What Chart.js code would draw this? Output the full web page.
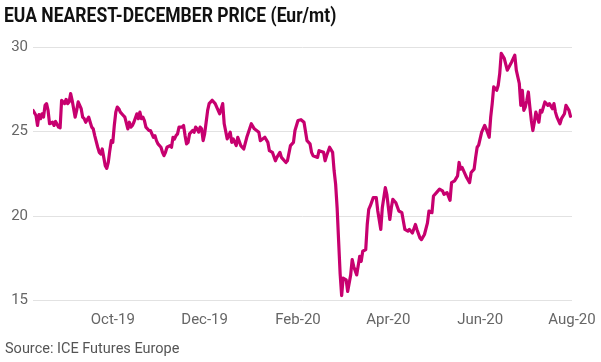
<!DOCTYPE html>
<html>
<head>
<meta charset="utf-8">
<script src="https://cdn.jsdelivr.net/npm/chart.js@4/dist/chart.umd.min.js"></script>
<style>
  html, body { margin: 0; padding: 0; background: #fff; }
  #wrap { width: 601px; height: 362px; position: relative; }
  #title {
    position: absolute; left: 4px; top: 5px; margin: 0;
    font: bold 21px/1 Roboto, sans-serif; color: #111;
    white-space: nowrap; transform-origin: 0 0;
  }
</style>
</head>
<body>
<div id="wrap">
  <canvas id="euaChart"></canvas>
  <div id="title">EUA NEAREST-DECEMBER PRICE (Eur/mt)</div>
</div>
<script>
// EUA nearest-December settlement (Eur/mt)
const priceDates = [
  '2019-08-09','2019-08-11','2019-08-12','2019-08-13','2019-08-14','2019-08-15','2019-08-16','2019-08-17',
  '2019-08-18','2019-08-19','2019-08-20','2019-08-22','2019-08-23','2019-08-24','2019-08-26','2019-08-27',
  '2019-08-28','2019-08-30','2019-08-31','2019-09-01','2019-09-02','2019-09-03','2019-09-04','2019-09-06',
  '2019-09-07','2019-09-08','2019-09-10','2019-09-11','2019-09-12','2019-09-13','2019-09-15','2019-09-16',
  '2019-09-17','2019-09-18','2019-09-19','2019-09-21','2019-09-22','2019-09-23','2019-09-24','2019-09-25',
  '2019-09-26','2019-09-27','2019-09-28','2019-09-29','2019-09-30','2019-10-01','2019-10-02','2019-10-03',
  '2019-10-04','2019-10-05','2019-10-06','2019-10-08','2019-10-09','2019-10-11','2019-10-12','2019-10-13',
  '2019-10-14','2019-10-15','2019-10-17','2019-10-18','2019-10-19','2019-10-20','2019-10-21','2019-10-22',
  '2019-10-23','2019-10-25','2019-10-26','2019-10-28','2019-10-29','2019-10-30','2019-10-31','2019-11-02',
  '2019-11-03','2019-11-04','2019-11-05','2019-11-06','2019-11-08','2019-11-09','2019-11-10','2019-11-11',
  '2019-11-12','2019-11-13','2019-11-14','2019-11-16','2019-11-17','2019-11-18','2019-11-19','2019-11-20',
  '2019-11-21','2019-11-23','2019-11-24','2019-11-25','2019-11-26','2019-11-27','2019-11-28','2019-11-29',
  '2019-11-30','2019-12-01','2019-12-02','2019-12-03','2019-12-04','2019-12-06','2019-12-08','2019-12-11',
  '2019-12-13','2019-12-14','2019-12-16','2019-12-18','2019-12-19','2019-12-20','2019-12-22','2019-12-23',
  '2019-12-25','2019-12-27','2019-12-29','2020-01-01','2020-01-03','2020-01-06','2020-01-07','2020-01-10',
  '2020-01-12','2020-01-13','2020-01-15','2020-01-17','2020-01-18','2020-01-20','2020-01-21','2020-01-24',
  '2020-01-25','2020-01-27','2020-01-29','2020-01-30','2020-02-01','2020-02-03','2020-02-05','2020-02-07',
  '2020-02-09','2020-02-10','2020-02-11','2020-02-14','2020-02-15','2020-02-18','2020-02-19','2020-02-20',
  '2020-02-22','2020-02-24','2020-02-25','2020-02-26','2020-02-27','2020-02-28','2020-02-29','2020-03-01',
  '2020-03-02','2020-03-04','2020-03-05','2020-03-07','2020-03-08','2020-03-09','2020-03-11','2020-03-13',
  '2020-03-14','2020-03-15','2020-03-17','2020-03-18','2020-03-19','2020-03-20','2020-03-22','2020-03-24',
  '2020-03-25','2020-03-27','2020-03-28','2020-03-30','2020-03-31','2020-04-02','2020-04-03','2020-04-04',
  '2020-04-06','2020-04-08','2020-04-10','2020-04-12','2020-04-14','2020-04-15','2020-04-17','2020-04-19',
  '2020-04-20','2020-04-22','2020-04-23','2020-04-25','2020-04-27','2020-04-28','2020-04-30','2020-05-01',
  '2020-05-03','2020-05-05','2020-05-07','2020-05-08','2020-05-10','2020-05-12','2020-05-13','2020-05-15',
  '2020-05-17','2020-05-18','2020-05-19','2020-05-20','2020-05-22','2020-05-23','2020-05-25','2020-05-26',
  '2020-05-28','2020-05-29','2020-05-30','2020-05-31','2020-06-02','2020-06-04','2020-06-05','2020-06-07',
  '2020-06-08','2020-06-09','2020-06-10','2020-06-12','2020-06-13','2020-06-14','2020-06-15','2020-06-17',
  '2020-06-19','2020-06-22','2020-06-24','2020-06-25','2020-06-27','2020-06-28','2020-06-29','2020-06-30',
  '2020-07-01','2020-07-02','2020-07-03','2020-07-04','2020-07-05','2020-07-06','2020-07-07','2020-07-08',
  '2020-07-10','2020-07-11','2020-07-12','2020-07-14','2020-07-16','2020-07-17','2020-07-19','2020-07-20',
  '2020-07-21','2020-07-22','2020-07-24','2020-07-25','2020-07-27','2020-07-28','2020-07-30','2020-07-31'
];

const prices = [
  26.25, 25.95, 25.36, 26.00, 25.76, 26.05, 25.85, 26.55,
  26.65, 26.25, 25.46, 25.55, 25.36, 25.60, 25.26, 25.22,
  26.85, 26.65, 26.90, 26.65, 26.75, 27.25, 26.85, 25.85,
  26.25, 26.75, 26.35, 25.85, 25.76, 25.55, 25.85, 25.55,
  25.26, 25.16, 24.76, 24.07, 23.77, 23.67, 23.97, 23.47,
  22.98, 22.82, 23.17, 23.87, 24.46, 24.36, 25.36, 26.15,
  26.45, 26.35, 26.15, 25.95, 25.85, 25.16, 25.55, 25.26,
  25.36, 25.55, 26.05, 25.76, 26.15, 25.76, 25.85, 25.65,
  25.26, 25.06, 25.06, 24.66, 24.76, 24.46, 24.27, 24.07,
  23.77, 23.57, 23.77, 24.07, 24.17, 24.07, 24.66, 24.56,
  24.76, 24.86, 25.26, 25.26, 25.36, 24.76, 24.27, 24.36,
  24.86, 25.06, 24.96, 25.26, 25.16, 24.96, 25.26, 25.16,
  24.46, 24.86, 25.55, 26.25, 26.65, 26.85, 26.65, 26.05,
  26.65, 25.46, 24.56, 24.96, 24.36, 24.56, 24.17, 24.66,
  24.17, 23.97, 24.66, 25.46, 25.16, 24.96, 24.46, 24.66,
  24.36, 23.87, 23.77, 23.27, 23.47, 23.77, 23.47, 23.17,
  23.27, 24.17, 24.36, 25.06, 25.65, 25.70, 25.55, 24.46,
  24.27, 23.77, 23.57, 23.47, 23.87, 23.77, 23.27, 23.57,
  24.07, 23.77, 22.68, 21.89, 20.49, 18.51, 16.58, 15.30,
  16.33, 16.23, 15.54, 16.52, 17.42, 17.02, 16.52, 17.62,
  17.32, 17.92, 18.02, 19.50, 20.40, 20.60, 21.09, 21.09,
  20.30, 19.21, 20.49, 21.68, 21.29, 19.80, 20.49, 20.99,
  20.79, 20.30, 20.20, 19.21, 19.11, 19.21, 19.00, 19.50,
  19.21, 18.71, 18.61, 18.91, 19.60, 20.30, 20.20, 21.19,
  21.39, 21.59, 21.49, 21.29, 21.39, 20.93, 21.98, 22.08,
  22.38, 23.17, 22.78, 22.88, 22.48, 22.28, 21.98, 22.58,
  22.78, 23.47, 24.07, 24.20, 24.96, 25.36, 25.16, 24.66,
  25.85, 26.65, 27.64, 27.44, 27.74, 28.43, 29.62, 29.33,
  28.63, 29.13, 29.52, 28.63, 27.84, 26.55, 27.44, 26.25,
  26.45, 26.85, 27.34, 26.45, 25.65, 25.06, 25.55, 26.15,
  25.55, 26.25, 26.15, 26.75, 26.55, 26.65, 26.35, 26.65,
  26.15, 25.85, 25.46, 25.76, 26.05, 26.55, 26.25, 25.90
];

// x-axis month ticks
const tickDates = ['2019-10-01', '2019-12-01', '2020-02-01', '2020-04-01', '2020-06-01', '2020-08-01'];
const tickLabels = ['Oct-19', 'Dec-19', 'Feb-20', 'Apr-20', 'Jun-20', 'Aug-20'];

// y-axis
const yMin = 15;
const yMax = 30;
const yStep = 5;

const xMin = Date.parse(priceDates[0]);
const xMax = Date.parse(tickDates[tickDates.length - 1]);

const points = priceDates.map((d, i) => ({ x: Date.parse(d), y: prices[i] }));

// squeeze the heading to the narrow width of the original
const titleEl = document.getElementById('title');
titleEl.style.transform = `scaleX(${332 / titleEl.scrollWidth})`;

const ctx = document.getElementById('euaChart').getContext('2d');

new Chart(ctx, {
  type: 'line',
  data: {
    datasets: [{
      label: 'EUA Dec',
      data: points,
      borderColor: '#c7006f',
      borderWidth: 3.2,
      borderJoinStyle: 'round',
      borderCapStyle: 'round',
      pointRadius: 0,
      tension: 0,
      fill: false
    }]
  },
  options: {
    responsive: true,
    maintainAspectRatio: false,
    animation: false,
    layout: { padding: { left: 5, right: 29, top: 47, bottom: 0 } },
    scales: {
      x: {
        type: 'linear',
        min: xMin,
        max: xMax,
        afterBuildTicks: scale => {
          scale.ticks = tickDates.map(d => ({ value: Date.parse(d) }));
        },
        afterFit: scale => {
          scale.height = 30;
          // last label may hang past the plot; the outer padding already covers it
          scale.paddingLeft = 0;
          scale.paddingRight = 0;
        },
        ticks: {
          autoSkip: false,
          maxRotation: 0,
          padding: 11,
          color: '#666',
          font: { family: 'Roboto', size: 15 },
          callback: (value, index) => tickLabels[index]
        },
        grid: { display: false, drawTicks: false },
        border: { display: false }
      },
      y: {
        min: yMin,
        max: yMax,
        afterFit: scale => { scale.width = 28; },
        ticks: {
          stepSize: yStep,
          padding: 5,
          color: '#666',
          font: { family: 'Roboto', size: 15 }
        },
        grid: { color: '#e2e2e2', lineWidth: 1, drawTicks: false },
        border: { display: false }
      }
    },
    plugins: {
      legend: { display: false },
      tooltip: { enabled: false },
      title: { display: false },
      subtitle: {
        display: true,
        position: 'bottom',
        text: 'Source: ICE Futures Europe',
        align: 'start',
        color: '#555',
        font: { family: 'Roboto', size: 14.5 },
        padding: { top: 10, bottom: 4 }
      }
    }
  }
});
</script>
</body>
</html>
